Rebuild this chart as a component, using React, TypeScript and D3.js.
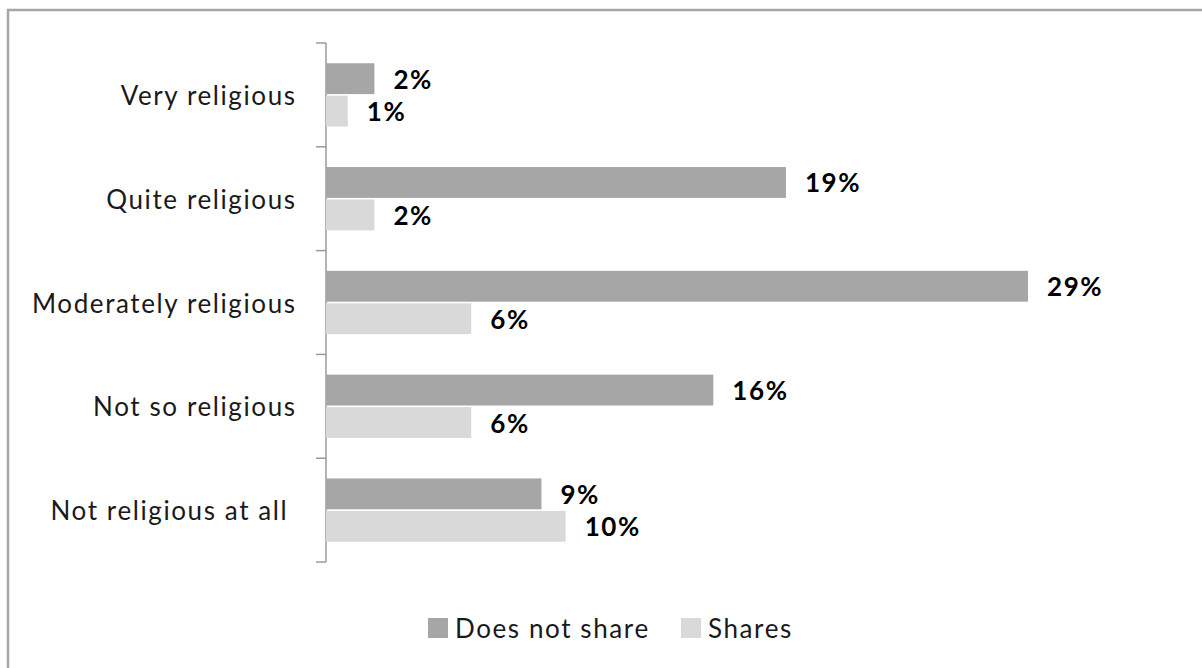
import React from "react";
import * as d3 from "d3";

const categories = [
  "Very religious",
  "Quite religious",
  "Moderately religious",
  "Not so religious",
  "Not religious at all\u00A0",
];
const seriesNames = ["Does not share", "Shares"];
const doesNotShare = [2.0, 19.0, 29.0, 16.0, 8.9];
const shares = [0.9, 2.0, 6.0, 6.0, 9.9];
const seriesColors = ["#a6a6a6", "#d9d9d9"];

const W = 1202;
const H = 668;
const FONT = "Lato, 'Open Sans', sans-serif";
const LS = 1.6;

export default function App() {
  const seriesValues = [doesNotShare, shares];
  const x = d3.scaleLinear().domain([0, 29]).range([326, 1028]);
  const y = d3.scaleBand<string>().domain(categories).range([43, 562]);
  const bw = y.bandwidth();
  const y1 = d3
    .scaleBand<string>()
    .domain(seriesNames)
    .range([bw * 0.195, bw * 0.805])
    .paddingInner(0.05);
  const boundaries = [...categories.map((c) => y(c)!), 562];

  return (
    <svg
      width={W}
      height={H}
      style={{ position: "absolute", left: 0, top: 0, background: "#fff" }}
    >
      <rect x={8} y={10} width={1300} height={700} fill="#fff" stroke="#a6a6a6" strokeWidth={2.5} />
      {/* axis */}
      <line x1={326} x2={326} y1={43} y2={562} stroke="#9a9a9a" strokeWidth={1.5} />
      {boundaries.map((b, i) => (
        <line key={i} x1={316} x2={326} y1={b} y2={b} stroke="#9a9a9a" strokeWidth={1.5} />
      ))}
      {categories.map((c) => (
        <text
          key={c}
          x={295 + LS}
          y={y(c)! + bw / 2}
          textAnchor="end"
          dominantBaseline="central"
          fontFamily={FONT}
          fontSize={26}
          letterSpacing={LS}
          fill="#1a1a1a"
        >
          {c}
        </text>
      ))}
      {seriesNames.map((s, si) =>
        categories.map((c, ci) => {
          const v = seriesValues[si][ci];
          const by = y(c)! + y1(s)!;
          return (
            <g key={s + c}>
              <rect
                x={x(0)}
                y={by}
                width={x(v) - x(0)}
                height={y1.bandwidth()}
                fill={seriesColors[si]}
              />
              <text
                x={x(v) + 19}
                y={by + y1.bandwidth() / 2}
                dominantBaseline="central"
                fontFamily={FONT}
                fontWeight="bold"
                fontSize={26}
                letterSpacing={LS}
                fill="#000"
              >
                {Math.round(v) + "%"}
              </text>
            </g>
          );
        })
      )}
      {/* legend */}
      {seriesNames.map((s, i) => {
        const lx = [428, 681][i];
        return (
          <g key={s}>
            <rect x={lx} y={618} width={20} height={20} fill={seriesColors[i]} />
            <text
              x={lx + 27}
              y={628}
              dominantBaseline="central"
              fontFamily={FONT}
              fontSize={26}
              letterSpacing={LS}
              fill="#1a1a1a"
            >
              {s}
            </text>
          </g>
        );
      })}
    </svg>
  );
}
